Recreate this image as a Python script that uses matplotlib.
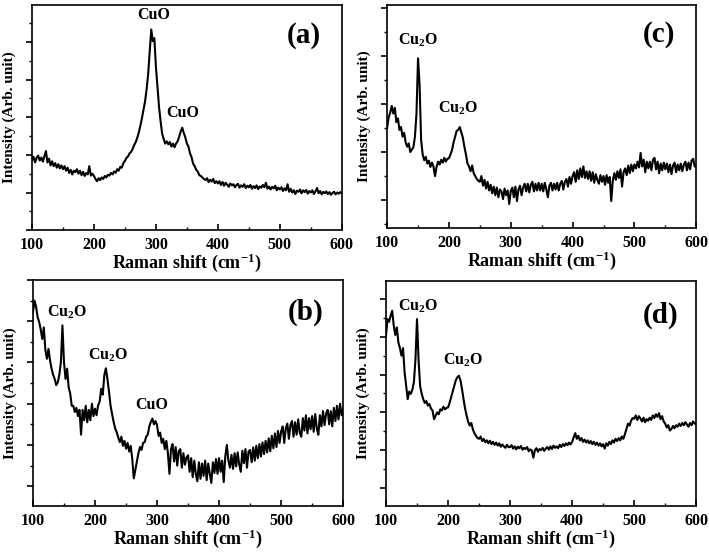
import numpy as np
import matplotlib
matplotlib.use("Agg")
import matplotlib.pyplot as plt
from matplotlib.ticker import MultipleLocator

plt.rcParams['font.family'] = 'Liberation Serif'
plt.rcParams['font.weight'] = 'bold'
plt.rcParams['mathtext.fontset'] = 'custom'
plt.rcParams['mathtext.rm'] = 'Liberation Serif:bold'
plt.rcParams['mathtext.bf'] = 'Liberation Serif:bold'
plt.rcParams['mathtext.it'] = 'Liberation Serif:bold'

# Raman shift grid (cm-1), one value every 2.5 cm-1
shift = np.arange(100, 600.01, 2.5)

# intensities (arbitrary units)
int_a = [
    1.86, 1.95, 1.80, 1.92, 1.98, 1.85, 1.93, 1.82, 1.96, 2.10,
    1.80, 1.90, 1.72, 1.83, 1.70, 1.78, 1.66, 1.75, 1.64, 1.72,
    1.62, 1.70, 1.58, 1.66, 1.52, 1.60, 1.48, 1.58, 1.54, 1.62,
    1.50, 1.58, 1.46, 1.55, 1.44, 1.52, 1.48, 1.70, 1.45, 1.50,
    1.44, 1.36, 1.30, 1.38, 1.33, 1.40, 1.36, 1.44, 1.40, 1.47,
    1.45, 1.52, 1.48, 1.56, 1.52, 1.62, 1.58, 1.68, 1.66, 1.78,
    1.84, 1.92, 1.96, 2.04, 2.08, 2.16, 2.26, 2.34, 2.46, 2.60,
    2.78, 2.98, 3.20, 3.42, 3.74, 4.15, 4.72, 5.33, 5.02, 5.10,
    4.34, 3.80, 3.28, 2.90, 2.57, 2.42, 2.30, 2.36, 2.28, 2.34,
    2.22, 2.30, 2.20, 2.30, 2.36, 2.48, 2.62, 2.72, 2.58, 2.46,
    2.30, 2.22, 2.04, 1.94, 1.77, 1.70, 1.60, 1.56, 1.46, 1.44,
    1.40, 1.36, 1.33, 1.38, 1.28, 1.34, 1.29, 1.36, 1.25, 1.30,
    1.24, 1.30, 1.20, 1.28, 1.18, 1.26, 1.21, 1.15, 1.24, 1.19,
    1.22, 1.14, 1.20, 1.23, 1.13, 1.19, 1.15, 1.22, 1.12, 1.18,
    1.14, 1.20, 1.10, 1.17, 1.12, 1.19, 1.09, 1.16, 1.13, 1.20,
    1.14, 1.26, 1.10, 1.16, 1.08, 1.15, 1.11, 1.18, 1.06, 1.13,
    1.08, 1.14, 1.04, 1.11, 1.06, 1.22, 1.02, 1.10, 1.00, 1.06,
    0.96, 1.05, 1.02, 1.08, 0.98, 1.06, 1.01, 1.07, 0.97, 1.04,
    1.00, 1.06, 0.96, 1.03, 1.12, 0.98, 1.04, 0.95, 1.02, 0.98,
    1.03, 0.96, 1.01, 0.94, 0.99, 1.02, 0.95, 1.00, 0.97, 1.01,
    0.98,
]

int_b = [
    5.22, 5.50, 5.35, 5.10, 4.98, 4.80, 4.57, 4.85, 4.30, 4.09,
    4.33, 4.05, 3.85, 3.70, 3.60, 3.45, 3.52, 3.70, 4.00, 4.90,
    4.00, 3.60, 3.85, 3.40, 3.25, 2.95, 2.95, 2.80, 2.90, 2.70,
    2.85, 2.25, 2.85, 2.60, 2.95, 2.55, 2.85, 2.60, 3.00, 2.70,
    2.88, 2.72, 2.96, 3.05, 3.36, 3.22, 3.69, 3.86, 3.60, 3.30,
    2.96, 2.75, 2.56, 2.40, 2.31, 2.18, 2.07, 2.20, 1.98, 2.10,
    1.91, 2.05, 1.84, 1.98, 1.67, 1.19, 1.40, 1.60, 1.80, 1.95,
    1.88, 2.05, 2.07, 2.20, 2.25, 2.45, 2.56, 2.64, 2.50, 2.58,
    2.48, 2.22, 2.30, 2.05, 2.15, 1.90, 2.10, 1.80, 1.30, 1.90,
    2.02, 1.60, 1.95, 1.50, 1.85, 1.90, 1.45, 1.80, 1.52, 1.70,
    1.75, 1.35, 1.68, 1.22, 1.62, 1.30, 1.12, 1.58, 1.18, 1.55,
    1.25, 1.62, 1.15, 1.55, 1.30, 1.08, 1.58, 1.32, 1.66, 1.30,
    1.68, 1.35, 1.62, 1.10, 1.72, 2.00, 1.62, 1.45, 1.76, 1.42,
    1.80, 1.48, 1.82, 1.52, 1.35, 1.86, 1.56, 1.90, 1.45, 1.84,
    1.88, 1.58, 1.94, 1.62, 1.98, 1.68, 2.02, 1.72, 2.06, 1.78,
    2.10, 1.82, 2.16, 1.85, 2.22, 1.92, 2.28, 1.95, 2.34, 2.05,
    2.33, 2.45, 2.05, 2.40, 2.52, 2.15, 2.48, 2.58, 2.20, 2.55,
    2.25, 2.62, 2.30, 2.20, 2.65, 2.35, 2.72, 2.28, 2.65, 2.38,
    2.70, 2.32, 2.75, 2.40, 2.25, 2.72, 2.45, 2.82, 2.48, 2.76,
    2.85, 2.50, 2.82, 2.45, 2.90, 2.58, 2.95, 2.62, 3.00, 2.72,
    2.88,
]

int_c = [
    2.50, 2.72, 2.82, 2.96, 2.80, 2.92, 2.62, 2.70, 2.46, 2.52,
    2.32, 2.40, 2.20, 2.11, 2.18, 2.00, 2.05, 2.10, 2.32, 2.80,
    3.95, 3.40, 2.25, 1.95, 1.83, 1.90, 1.76, 1.82, 1.69, 1.78,
    1.70, 1.50, 1.69, 1.80, 1.74, 1.84, 1.78, 1.88, 1.80, 1.86,
    1.87, 1.95, 2.04, 2.20, 2.32, 2.44, 2.46, 2.52, 2.41, 2.30,
    2.11, 1.95, 1.76, 1.70, 1.60, 1.72, 1.56, 1.50, 1.44, 1.40,
    1.38, 1.50, 1.30, 1.42, 1.24, 1.38, 1.20, 1.32, 1.14, 1.28,
    1.10, 1.26, 1.06, 1.22, 1.18, 1.02, 1.24, 1.10, 1.20, 0.92,
    1.18, 1.26, 1.06, 1.28, 0.98, 1.22, 1.30, 1.10, 1.26, 1.34,
    1.18, 1.34, 1.16, 1.32, 1.38, 1.18, 1.34, 1.20, 1.36, 1.20,
    1.34, 1.18, 1.36, 1.22, 1.06, 1.30, 1.36, 1.20, 1.34, 1.22,
    1.36, 1.20, 1.34, 1.40, 1.22, 1.38, 1.44, 1.28, 1.48, 1.34,
    1.50, 1.58, 1.38, 1.62, 1.44, 1.66, 1.48, 1.70, 1.46, 1.60,
    1.44, 1.60, 1.40, 1.58, 1.36, 1.54, 1.42, 1.34, 1.52, 1.38,
    1.50, 1.32, 1.52, 1.36, 1.48, 0.98, 1.40, 1.56, 1.42, 1.60,
    1.46, 1.64, 1.28, 1.58, 1.66, 1.52, 1.72, 1.56, 1.74, 1.60,
    1.74, 1.66, 1.80, 1.68, 1.98, 1.70, 1.84, 1.58, 1.80, 1.66,
    1.80, 1.62, 1.84, 1.88, 1.64, 1.80, 1.56, 1.76, 1.62, 1.78,
    1.64, 1.76, 1.58, 1.74, 1.54, 1.72, 1.78, 1.58, 1.74, 1.62,
    1.76, 1.60, 1.74, 1.80, 1.62, 1.78, 1.64, 1.82, 1.86, 1.70,
    1.69,
]

int_d = [
    5.03, 5.47, 5.40, 5.56, 5.69, 5.30, 5.05, 5.25, 4.85, 4.70,
    4.50, 4.70, 4.06, 3.70, 3.35, 3.55, 3.49, 3.60, 3.80, 4.40,
    5.47, 4.40, 3.70, 3.50, 3.35, 3.25, 3.30, 3.18, 3.22, 3.10,
    3.05, 2.82, 2.91, 3.00, 2.95, 3.08, 3.05, 3.15, 3.08, 3.12,
    3.13, 3.25, 3.40, 3.55, 3.71, 3.85, 3.93, 3.97, 3.85, 3.62,
    3.35, 3.10, 2.91, 2.75, 2.65, 2.72, 2.55, 2.45, 2.38, 2.32,
    2.30, 2.36, 2.24, 2.30, 2.21, 2.26, 2.18, 2.25, 2.16, 2.22,
    2.14, 2.20, 2.12, 2.18, 2.09, 2.15, 2.10, 2.06, 2.14, 2.08,
    2.08, 2.13, 2.04, 2.10, 2.02, 2.09, 2.05, 2.11, 2.01, 2.06,
    2.03, 2.08, 1.97, 2.02, 1.99, 1.80, 2.00, 2.05, 1.96, 2.03,
    2.00, 2.06, 1.98, 2.04, 2.08, 2.01, 2.10, 2.03, 2.12, 2.06,
    2.10, 2.05, 2.14, 2.08, 2.16, 2.11, 2.18, 2.13, 2.20, 2.15,
    2.22, 2.34, 2.45, 2.30, 2.38, 2.26, 2.32, 2.22, 2.28, 2.20,
    2.26, 2.18, 2.24, 2.16, 2.22, 2.14, 2.20, 2.12, 2.18, 2.10,
    2.16, 2.04, 2.18, 2.12, 2.22, 2.16, 2.26, 2.20, 2.30, 2.24,
    2.32, 2.26, 2.36, 2.30, 2.42, 2.56, 2.70, 2.65, 2.78, 2.85,
    2.83, 2.92, 2.80, 2.90, 2.84, 2.76, 2.86, 2.74, 2.82, 2.78,
    2.86, 2.80, 2.92, 2.85, 2.95, 2.88, 2.98, 2.82, 2.90, 2.76,
    2.70, 2.60, 2.66, 2.52, 2.56, 2.64, 2.58, 2.66, 2.62, 2.70,
    2.64, 2.72, 2.66, 2.74, 2.68, 2.62, 2.72, 2.66, 2.76, 2.70,
    2.69,
]

cu2o = r'Cu$_{2}$O'

fig = plt.figure(figsize=(7.09, 5.52), dpi=100)

# panel: (axes rect, data, y limits, peak labels, tag position)
panels = [
    ([0.0451, 0.583, 0.437, 0.408], int_a, (0.0, 5.98),
     [('CuO', 297, 5.72), ('CuO', 344, 3.10)], ('(a)', 539, 5.18)),
    ([0.546, 0.587, 0.436, 0.404], int_c, (0.42, 5.06),
     [(cu2o, 150, 4.33), (cu2o, 215, 2.91)], ('(c)', 540, 4.44)),
    ([0.0465, 0.0833, 0.4375, 0.4095], int_b, (0.52, 6.0),
     [(cu2o, 155, 5.22), (cu2o, 221, 4.17), ('CuO', 291, 2.96)], ('(b)', 539, 5.22)),
    ([0.5444, 0.0833, 0.4376, 0.4077], int_d, (0.52, 6.48),
     [(cu2o, 151, 5.82), (cu2o, 224, 4.37)], ('(d)', 542, 5.56)),
]

for rect, y, ylim, peaks, tag in panels:
    ax = fig.add_axes(rect)
    ax.plot(shift, y, color='black', lw=1.5)
    ax.set_xlim(100, 600)
    ax.set_ylim(*ylim)
    ax.xaxis.set_major_locator(MultipleLocator(100))
    ax.xaxis.set_minor_locator(MultipleLocator(50))
    ax.yaxis.set_major_locator(MultipleLocator(1))
    ax.yaxis.set_minor_locator(MultipleLocator(0.5))
    ax.set_yticklabels([])
    ax.tick_params(axis='x', which='both', direction='in', labelsize=11.5, pad=5)
    ax.tick_params(axis='x', which='major', length=4, width=1.2)
    ax.tick_params(axis='x', which='minor', length=2.5, width=1.0)
    ax.tick_params(axis='y', which='major', direction='out', length=4, width=1.2)
    ax.tick_params(axis='y', which='minor', direction='out', length=2.5, width=1.0)
    for lab in ax.get_xticklabels():
        lab.set_fontweight('bold')
    for sp in ax.spines.values():
        sp.set_linewidth(1.2)
    ax.set_xlabel('Raman shift (cm$^{-1}$)', fontsize=13, fontweight='bold', labelpad=-1)
    ax.set_ylabel('Intensity (Arb. unit)', fontsize=11, fontweight='bold')
    ax.yaxis.set_label_coords(-0.052, 0.5)
    for txt, px, py in peaks:
        ax.text(px, py, txt, ha='center', va='center', fontsize=11.5, fontweight='bold')
    ax.text(tag[1], tag[2], tag[0], ha='center', va='center', fontsize=21, fontweight='bold')

fig.savefig('out.png', dpi=100)
